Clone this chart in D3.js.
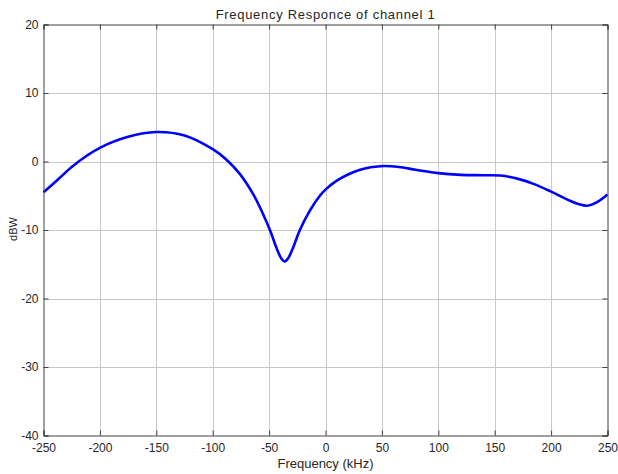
<!DOCTYPE html>
<html>
<head>
<meta charset="utf-8">
<script src="https://cdn.jsdelivr.net/npm/d3@7"></script>
<style>
  html, body { margin: 0; padding: 0; background: #ffffff; }
  svg { display: block; }
  text { font-family: "Liberation Sans", Arial, Helvetica, sans-serif; fill: #262626; }
</style>
</head>
<body>
<svg id="chart" width="618" height="474"></svg>
<script>
// ---- data ----
const frequencyKHz = [-250, -237, -225, -212, -200, -175, -150, -125, -100, -88, -76, -64, -55, -49, -43, -39, -36, -33, -29, -23, -14, -5, 0, 10, 20, 30, 40, 52, 65, 80, 100, 120, 140, 155, 170, 185, 200, 215, 225, 232, 240, 250];
const responseDBW  = [-4.5, -2.6, -0.8, 0.8, 2.0, 3.6, 4.3, 3.8, 1.8, 0.3, -1.8, -4.8, -7.8, -10.1, -12.8, -14.2, -14.6, -14.1, -12.7, -10.1, -7.2, -5.0, -4.1, -2.8, -1.9, -1.25, -0.85, -0.65, -0.8, -1.2, -1.7, -1.95, -2.0, -2.05, -2.5, -3.3, -4.4, -5.6, -6.25, -6.45, -6.0, -4.8];
const xTicks = [-250, -200, -150, -100, -50, 0, 50, 100, 150, 200, 250];
const yTicks = [-40, -30, -20, -10, 0, 10, 20];
const titleText = "Frequency Responce of channel 1";
const xLabelText = "Frequency (kHz)";
const yLabelText = "dBW";

// ---- layout ----
const pLeft = 43.5, pRight = 607.5, pTop = 24.5, pBottom = 435.5;
const svg = d3.select("#chart");

const x = d3.scaleLinear().domain([-250, 250]).range([pLeft, pRight]);
const y = d3.scaleLinear().domain([-40, 20]).range([pBottom, pTop]);

// grid
const grid = svg.append("g");
grid.selectAll(".gx").data(xTicks.slice(1, -1)).enter().append("line")
  .attr("x1", d => Math.round(x(d)) + 0.5).attr("x2", d => Math.round(x(d)) + 0.5)
  .attr("y1", pTop).attr("y2", pBottom)
  .attr("stroke", "#c8c8c8").attr("stroke-width", 1);
grid.selectAll(".gy").data(yTicks.slice(1, -1)).enter().append("line")
  .attr("y1", d => Math.round(y(d)) + 0.5).attr("y2", d => Math.round(y(d)) + 0.5)
  .attr("x1", pLeft).attr("x2", pRight)
  .attr("stroke", "#c8c8c8").attr("stroke-width", 1);

// curve
const line = d3.line()
  .x((d, i) => x(frequencyKHz[i]))
  .y(d => y(d))
  .curve(d3.curveCatmullRom.alpha(0.5));
svg.append("path")
  .datum(responseDBW)
  .attr("d", line)
  .attr("fill", "none")
  .attr("stroke", "#0000ff")
  .attr("stroke-width", 2.6)
  .attr("stroke-linejoin", "round");

// axes (MATLAB-style box with inward ticks)
const fmt = d => String(d);
const xAxisB = d3.axisBottom(x).tickValues(xTicks).tickSize(-5).tickPadding(8).tickFormat(fmt);
const xAxisT = d3.axisTop(x).tickValues(xTicks).tickSize(-5).tickFormat("");
const yAxisL = d3.axisLeft(y).tickValues(yTicks).tickSize(-5).tickPadding(5).tickFormat(fmt);
const yAxisR = d3.axisRight(y).tickValues(yTicks).tickSize(-5).tickFormat("");

function style(g) {
  g.selectAll("path").attr("stroke", "#404040");
  g.selectAll("line").attr("stroke", "#404040");
  g.selectAll("text").style("font-size", "12px").attr("fill", "#262626");
}
svg.append("g").attr("transform", `translate(0,${pBottom})`).call(xAxisB).call(style);
svg.append("g").attr("transform", `translate(0,${pTop})`).call(xAxisT).call(style);
svg.append("g").attr("transform", `translate(${pLeft},0)`).call(yAxisL).call(style);
svg.append("g").attr("transform", `translate(${pRight},0)`).call(yAxisR).call(style);
svg.selectAll(".domain").attr("stroke-width", 1);

// labels
svg.append("text").attr("x", (pLeft + pRight) / 2).attr("y", 19)
  .attr("text-anchor", "middle").style("font-size", "13px").style("letter-spacing", "0.7px").text(titleText);
svg.append("text").attr("x", (pLeft + pRight) / 2).attr("y", 468)
  .attr("text-anchor", "middle").style("font-size", "13px").text(xLabelText);
svg.append("text").attr("transform", `translate(17,229) rotate(-90)`)
  .attr("text-anchor", "middle").style("font-size", "11px").text(yLabelText);
</script>
</body>
</html>
